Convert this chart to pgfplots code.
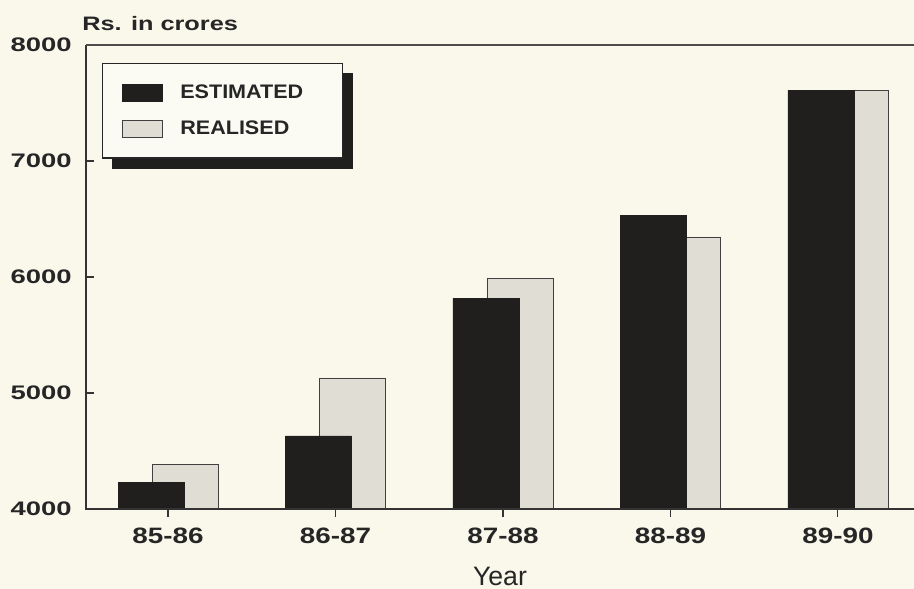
\documentclass[border=0pt]{standalone}
\usepackage{fontspec}
\setmainfont{Liberation Sans}
\newfontfamily\yfont{Liberation Sans}[FakeStretch=1.4]
\newfontfamily\xfont{Liberation Sans}[FakeStretch=1.25]
\newfontfamily\lfont{Liberation Sans}[FakeStretch=1.1]
\newfontfamily\tfont{Liberation Sans}[FakeStretch=1.3]
\usepackage{pgfplots}
\pgfplotsset{compat=1.18}
\pgfdeclarelayer{background}
\pgfsetlayers{background,main}
\definecolor{bg}{RGB}{250,248,235}
\definecolor{legbg}{RGB}{252,251,243}
\definecolor{est}{RGB}{33,30,30}
\definecolor{rea}{RGB}{224,222,212}
\begin{document}
\begin{tikzpicture}
\begin{axis}[
  name=ax,
  at={(0,0)}, anchor=south west,
  scale only axis, width=621pt, height=348pt,
  xmin=-0.4896, xmax=4.454,
  ymin=4000, ymax=8000,
  ytick={4000,5000,6000,7000,8000},
  yticklabels={4000,5000,6000,7000,8000},
  xtick={0,1,2,3,4},
  xticklabels={85-86,86-87,87-88,88-89,89-90},
  axis line style={draw=none},
  tick align=inside, major tick length=6pt,
  xtick pos=left, ytick pos=left,
  tick style={black!80, line width=0.8pt},
  x tick style={yshift=-6pt},
  yticklabel style={font=\yfont\bfseries\fontsize{14.7pt}{16pt}\selectfont, text=black!85, anchor=east, inner sep=0pt, xshift=-10.5pt},
  xticklabel style={font=\xfont\bfseries\fontsize{16.7pt}{18pt}\selectfont, text=black!85, anchor=base, inner sep=0pt, yshift=-26.25pt},
  reverse legend,
  legend cell align=left,
  legend style={name=leg, at={(0.0193,0.961)}, anchor=north west, fill=legbg, draw=black!85, line width=0.8pt,
    inner xsep=14.25pt, inner ysep=14.25pt, row sep=10.75pt,
    font=\lfont\bfseries\fontsize{14.7pt}{16pt}\selectfont, text=black!85},
]
\addplot[ybar, bar width=49.5pt, bar shift=12.75pt, fill=rea, draw=black!75, line width=0.6pt,
  legend image code/.code={\draw[fill=rea, draw=black!75, line width=0.6pt] (0pt,-6.375pt) rectangle (30pt,6.375pt); \path (41.5pt,0pt);}]
  coordinates {(0,4385) (1,5130) (2,5985) (3,6345) (4,7610)};
\addlegendentry{REALISED}
\addplot[ybar, bar width=49.5pt, bar shift=-12.75pt, fill=est, draw=est, line width=0.4pt,
  legend image code/.code={\draw[fill=est, draw=est] (0pt,-6.375pt) rectangle (30pt,6.375pt); \path (41.5pt,0pt);}]
  coordinates {(0,4230) (1,4630) (2,5815) (3,6530) (4,7610)};
\addlegendentry{ESTIMATED\hspace*{13.5pt}}
\end{axis}
\begin{pgfonlayer}{background}
\fill[bg] (-64.5pt,-60pt) rectangle (621pt,381.75pt);
\fill[est] ([xshift=7.5pt, yshift=-7.5pt]leg.north west) rectangle ([xshift=7.5pt, yshift=-7.5pt]leg.south east);
\end{pgfonlayer}
\draw[black!80, line width=0.9pt] (ax.north west) -- (ax.south west) -- (ax.south east);
\draw[black!70, line width=0.8pt] (ax.north west) -- (ax.north east);
\node[anchor=base west, font=\tfont\bfseries\fontsize{14.6pt}{16pt}\selectfont, text=black!85, inner sep=0pt] at ([xshift=-3pt, yshift=10.5pt]ax.north west) {Rs. in crores};
\node[anchor=base, font=\fontsize{20pt}{22pt}\selectfont, text=black!85, inner sep=0pt] at ([yshift=-57pt]ax.south) {Year};
\pgfresetboundingbox
\path[use as bounding box] (-64.5pt,-60pt) rectangle (621pt,381.75pt);
\end{tikzpicture}
\end{document}
